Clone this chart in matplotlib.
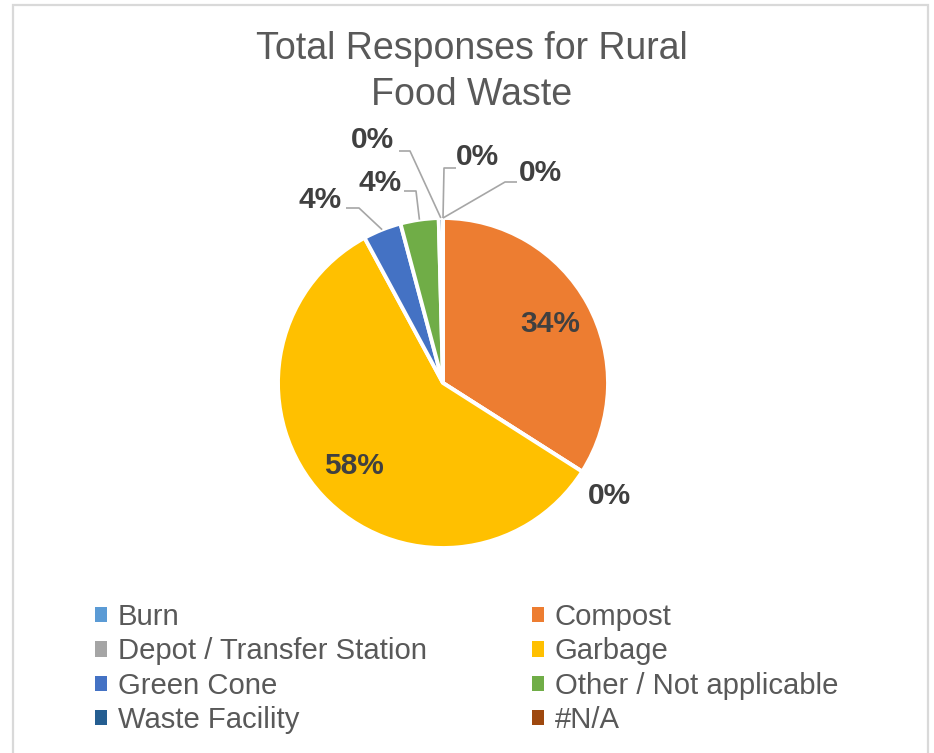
import matplotlib.pyplot as plt
from matplotlib.patches import Patch, Rectangle
import numpy as np

# data
categories = ['Burn', 'Compost', 'Depot / Transfer Station', 'Garbage',
              'Green Cone', 'Other / Not applicable', 'Waste Facility', '#N/A']
responses = [0, 82, 0, 140, 9, 9, 1, 0]
colors = ['#5B9BD5', '#ED7D31', '#A5A5A5', '#FFC000',
          '#4472C4', '#70AD47', '#255E91', '#9E480E']

plt.rcParams['font.family'] = ['Liberation Sans', 'DejaVu Sans']

W, H = 934, 753
fig = plt.figure(figsize=(W / 100, H / 100), dpi=100)
ax = fig.add_axes([0, 0, 1, 1])


def P(x, y):
    # pixel coords (y down) -> data coords
    return x, H - y


# chart border
ax.add_patch(Rectangle(P(13, 760), 915, 755, fill=False, edgecolor='#D9D9D9', lw=1.6))

cx, cy = P(443, 383)
R = 165
wedges, _ = ax.pie(responses, colors=colors, radius=R, center=(cx, cy),
                   startangle=90, counterclock=False,
                   wedgeprops=dict(edgecolor='white', linewidth=2.8))
ax.set_xlim(0, W)
ax.set_ylim(0, H)
ax.set_aspect('equal')
ax.axis('off')

total = sum(responses)
pct = [f'{round(v / total * 100)}%' for v in responses]
lab_kw = dict(fontsize=21.5, fontweight='bold', color='#404040', ha='center', va='center')
line_kw = dict(color='#A6A6A6', lw=1.2, solid_capstyle='butt')


def wedge_point(i, r):
    w = wedges[i]
    a = np.deg2rad((w.theta1 + w.theta2) / 2)
    return cx + r * np.cos(a), cy + r * np.sin(a)


# inside labels
for i in (1, 3):
    x, y = wedge_point(i, R * 0.74)
    ax.text(x, y, pct[i], **lab_kw)

# Depot label, no leader line
x, y = wedge_point(2, R * 1.2)
ax.text(x - 1, y - 7, pct[2], **lab_kw)

# outside labels with leader lines: index, text center, attach point, elbow x
outside = [
    (0, (540, 173), (517, 182), 505),
    (7, (477, 157), (456, 168), 444),
    (6, (372, 140), (399, 151), 410),
    (5, (380, 183), (404, 191), 416),
    (4, (320, 200), (346, 208), 359),
]
for i, tpos, apos, ex in outside:
    ax.text(*P(*tpos), pct[i], **lab_kw)
    wx, wy = wedge_point(i, R)
    ax1, ay1 = P(*apos)
    ax.plot([ax1, ex, wx], [ay1, ay1, wy], **line_kw)

fig.text(472 / W, 1 - 72 / H, 'Total Responses for Rural\nFood Waste', ha='center', va='center',
         fontsize=27, color='#595959', linespacing=1.35)

# legend, filled row-wise
order = [0, 2, 4, 6, 1, 3, 5, 7]
handles = [Patch(facecolor=colors[i], edgecolor='none') for i in order]
labels = [categories[i] for i in order]
fig.legend(handles, labels, ncol=2, loc='upper left', bbox_to_anchor=(95 / W, 1 - 603 / H),
           frameon=False, fontsize=21.1, labelcolor='#595959', handlelength=0.42,
           handleheight=0.42, handletextpad=0.35, labelspacing=0.22, columnspacing=3.6,
           borderpad=0, borderaxespad=0)

fig.savefig('out.png', dpi=100)
